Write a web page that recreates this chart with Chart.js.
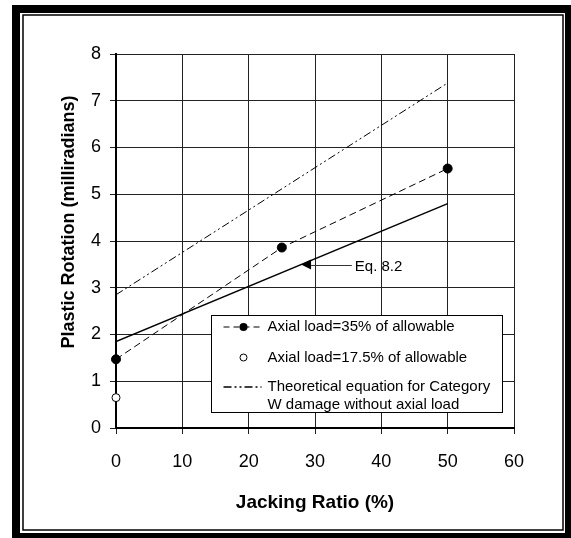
<!DOCTYPE html>
<html>
<head>
<meta charset="utf-8">
<script src="https://cdn.jsdelivr.net/npm/chart.js@4/dist/chart.umd.min.js"></script>
<style>
  html, body { margin: 0; padding: 0; background: #fff; }
</style>
</head>
<body>
<canvas id="chart" width="571" height="538"></canvas>
<script>
const FONT = '"Liberation Sans", Arial, sans-serif';

// Axial load = 35% of allowable (filled dots, dashed line)
const jacking35 = [0, 25, 50];
const rotation35 = [1.47, 3.86, 5.55];
// Axial load = 17.5% of allowable (open circle)
const jacking175 = [0];
const rotation175 = [0.65];
// Eq. 8.2 (solid) and theoretical Category W line (dash-dot-dot)
const lineX = [0, 50];
const eq82Y = [1.85, 4.8];
const theoryY = [2.85, 7.38];

const xTicks = [0, 10, 20, 30, 40, 50, 60];
const yTicks = [0, 1, 2, 3, 4, 5, 6, 7, 8];

const legendLabels = [
  ['Axial load=35% of allowable'],
  ['Axial load=17.5% of allowable'],
  ['Theoretical equation for Category', 'W damage without axial load'],
];
const eqLabel = 'Eq. 8.2';
const eqArrowAt = 27.9;   // x value where the arrow touches the Eq. 8.2 line
const eqTextAt = 36;      // x value where the label starts

const pts = (xs, ys) => xs.map((x, i) => ({ x, y: ys[i] }));

// White page with the double black frame around the whole figure.
const framePlugin = {
  id: 'frame',
  beforeDraw(chart) {
    const { ctx, width, height } = chart;
    ctx.save();
    ctx.fillStyle = '#fff';
    ctx.fillRect(0, 0, width, height);
    ctx.fillStyle = '#000';
    ctx.fillRect(12, 5, width - 12, height - 5);
    ctx.fillStyle = '#fff';
    ctx.fillRect(20, 13, width - 26, height - 18);
    ctx.strokeStyle = '#000';
    ctx.lineWidth = 1.5;
    ctx.strokeRect(23, 15, width - 31, height - 23);
    ctx.restore();
  }
};

// Rotated y-axis title, sitting a little above the plot's middle like the original.
const yTitlePlugin = {
  id: 'yTitle',
  afterDraw(chart) {
    const { ctx } = chart;
    ctx.save();
    ctx.translate(74, 222);
    ctx.rotate(-Math.PI / 2);
    ctx.font = 'bold 18px ' + FONT;
    ctx.fillStyle = '#000';
    ctx.textAlign = 'center';
    ctx.textBaseline = 'alphabetic';
    ctx.fillText('Plastic Rotation (milliradians)', 0, 0);
    ctx.restore();
  }
};

// Arrow + "Eq. 8.2" label, then the boxed legend inside the plot.
const notesPlugin = {
  id: 'notes',
  afterDatasetsDraw(chart) {
    const { ctx, chartArea: ca, scales: { x, y } } = chart;
    ctx.save();

    const t = (eqArrowAt - lineX[0]) / (lineX[1] - lineX[0]);
    const tipX = x.getPixelForValue(eqArrowAt);
    const tipY = y.getPixelForValue(eq82Y[0] + t * (eq82Y[1] - eq82Y[0]));
    ctx.fillStyle = '#000';
    ctx.beginPath();
    ctx.moveTo(tipX, tipY);
    ctx.lineTo(tipX + 10, tipY - 5);
    ctx.lineTo(tipX + 10, tipY + 5);
    ctx.closePath();
    ctx.fill();
    ctx.strokeStyle = '#333';
    ctx.lineWidth = 1;
    ctx.beginPath();
    ctx.moveTo(tipX + 10, Math.round(tipY) + 0.5);
    ctx.lineTo(x.getPixelForValue(eqTextAt) - 3, Math.round(tipY) + 0.5);
    ctx.stroke();
    ctx.font = '15px ' + FONT;
    ctx.textBaseline = 'middle';
    ctx.textAlign = 'left';
    ctx.fillText(eqLabel, x.getPixelForValue(eqTextAt), tipY + 2);

    // legend box
    const L = Math.round(ca.left + 95) + 0.5, T = Math.round(ca.top + 261) + 0.5;
    const W = 291, H = 97;
    ctx.fillStyle = '#fff';
    ctx.fillRect(L, T, W, H);
    ctx.strokeStyle = '#000';
    ctx.lineWidth = 1;
    ctx.strokeRect(L, T, W, H);

    const sx0 = L + 12, sx1 = L + 52, tx = L + 56;
    const rows = [T + 11.5, T + 42, T + 71.5];
    ctx.fillStyle = '#000';
    ctx.font = '15px ' + FONT;

    // row 1: dashed line with filled dot
    ctx.setLineDash([6, 4]);
    ctx.beginPath();
    ctx.moveTo(sx0, rows[0]);
    ctx.lineTo(sx1, rows[0]);
    ctx.stroke();
    ctx.setLineDash([]);
    ctx.beginPath();
    ctx.arc((sx0 + sx1) / 2, rows[0], 4, 0, Math.PI * 2);
    ctx.fill();
    ctx.fillText(legendLabels[0][0], tx, rows[0]);

    // row 2: open circle
    ctx.beginPath();
    ctx.arc((sx0 + sx1) / 2, rows[1], 3.5, 0, Math.PI * 2);
    ctx.fillStyle = '#fff';
    ctx.fill();
    ctx.stroke();
    ctx.fillStyle = '#000';
    ctx.fillText(legendLabels[1][0], tx, rows[1]);

    // row 3: dash-dot-dot line, two-line text
    ctx.lineWidth = 1.5;
    ctx.setLineDash([8, 3, 2, 3, 2, 3]);
    ctx.beginPath();
    ctx.moveTo(sx0, rows[2]);
    ctx.lineTo(sx1 - 2, rows[2]);
    ctx.stroke();
    ctx.setLineDash([]);
    legendLabels[2].forEach((s, i) => ctx.fillText(s, tx, rows[2] + i * 18));

    ctx.restore();
  }
};

new Chart(document.getElementById('chart'), {
  type: 'scatter',
  data: {
    datasets: [
      {
        label: legendLabels[0][0],
        data: pts(jacking35, rotation35),
        showLine: true,
        borderColor: '#000',
        borderWidth: 1,
        borderDash: [7, 4],
        pointRadius: 4.5,
        pointBackgroundColor: '#000',
        pointBorderColor: '#000',
        clip: false,
      },
      {
        label: legendLabels[1][0],
        data: pts(jacking175, rotation175),
        showLine: false,
        pointRadius: 4,
        pointBackgroundColor: '#fff',
        pointBorderColor: '#000',
        pointBorderWidth: 1,
        clip: false,
      },
      {
        label: eqLabel,
        data: pts(lineX, eq82Y),
        showLine: true,
        borderColor: '#000',
        borderWidth: 1.5,
        pointRadius: 0,
      },
      {
        label: legendLabels[2].join(' '),
        data: pts(lineX, theoryY),
        showLine: true,
        borderColor: '#000',
        borderWidth: 1,
        borderDash: [8, 3, 2, 3, 2, 3],
        pointRadius: 0,
      },
    ]
  },
  options: {
    responsive: false,
    animation: false,
    devicePixelRatio: 1,
    layout: { padding: { left: 0, top: 54, right: 57, bottom: 0 } },
    plugins: {
      legend: { display: false },
      tooltip: { enabled: false },
    },
    scales: {
      x: {
        type: 'linear',
        min: xTicks[0], max: xTicks[xTicks.length - 1],
        afterBuildTicks: s => { s.ticks = xTicks.map(v => ({ value: v })); },
        afterFit: s => { s.height = 110; },
        ticks: { color: '#000', font: { family: FONT, size: 18 }, padding: 17, maxRotation: 0 },
        grid: { color: '#222', lineWidth: 1, tickLength: 6 },
        border: { color: '#000', width: 2 },
        title: {
          display: true, text: 'Jacking Ratio (%)', color: '#000',
          font: { family: FONT, size: 19, weight: 'bold' },
          padding: { top: 0, bottom: 24 },
        },
      },
      y: {
        type: 'linear',
        min: yTicks[0], max: yTicks[yTicks.length - 1],
        afterBuildTicks: s => { s.ticks = yTicks.map(v => ({ value: v })); },
        afterFit: s => { s.width = 116; },
        ticks: { color: '#000', font: { family: FONT, size: 18 }, padding: 9 },
        grid: { color: '#222', lineWidth: 1, tickLength: 6 },
        border: { color: '#000', width: 2 },
      },
    }
  },
  plugins: [framePlugin, yTitlePlugin, notesPlugin]
});
</script>
</body>
</html>
